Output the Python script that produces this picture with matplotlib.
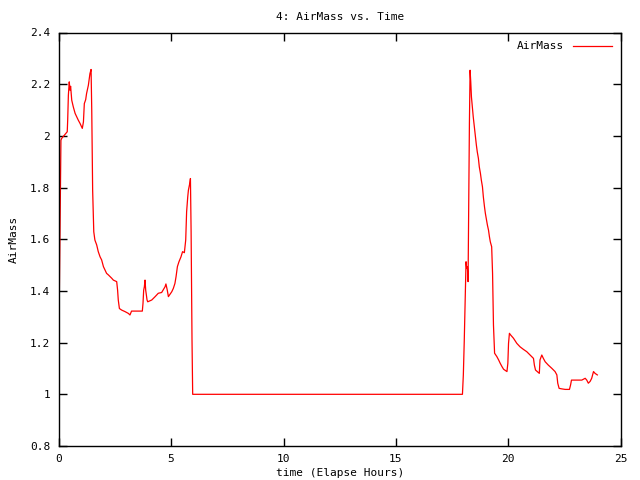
import matplotlib
matplotlib.use("Agg")
import matplotlib.pyplot as plt

# rows of 8 values; hours[i] pairs with airmass[i]
hours = [
    0.00, 0.02, 0.07, 0.10, 0.13, 0.38, 0.40, 0.43,
    0.47, 0.50, 0.53, 0.58, 0.65, 0.73, 0.80, 0.87,
    0.95, 1.02, 1.05, 1.10, 1.14, 1.20, 1.24, 1.32,
    1.39, 1.44, 1.47, 1.51, 1.56, 1.61, 1.69, 1.76,
    1.84, 1.91, 1.99, 2.06, 2.13, 2.21, 2.36, 2.43,
    2.58, 2.62, 2.65, 2.70, 2.80, 2.95, 3.10, 3.17,
    3.24, 3.72, 3.75, 3.78, 3.81, 3.84, 3.87, 3.93,
    3.96, 4.14, 4.29, 4.43, 4.58, 4.73, 4.77, 4.83,
    4.88, 5.03, 5.10, 5.17, 5.22, 5.28, 5.35, 5.44,
    5.51, 5.59, 5.62, 5.65, 5.69, 5.74, 5.77, 5.80,
    5.83, 5.86, 5.89, 5.93, 5.96, 17.96, 18.00, 18.04,
    18.09, 18.12, 18.15, 18.18, 18.21, 18.23, 18.27, 18.30,
    18.33, 18.36, 18.40, 18.44, 18.49, 18.53, 18.58, 18.62,
    18.67, 18.71, 18.76, 18.80, 18.85, 18.89, 18.94, 18.98,
    19.03, 19.07, 19.12, 19.16, 19.20, 19.26, 19.30, 19.34,
    19.39, 19.49, 19.57, 19.64, 19.72, 19.79, 19.94, 19.98,
    20.01, 20.05, 20.11, 20.23, 20.38, 20.52, 20.67, 20.82,
    20.97, 21.12, 21.16, 21.21, 21.29, 21.38, 21.41, 21.49,
    21.56, 21.64, 21.78, 21.93, 22.08, 22.16, 22.20, 22.26,
    22.38, 22.53, 22.72, 22.77, 22.81, 23.05, 23.27, 23.42,
    23.49, 23.56, 23.64, 23.71, 23.79, 23.86, 23.96,
]
airmass = [
    1.094, 1.313, 1.758, 1.983, 1.990, 2.016, 2.061, 2.157,
    2.209, 2.177, 2.192, 2.138, 2.112, 2.087, 2.074, 2.061,
    2.048, 2.035, 2.029, 2.054, 2.125, 2.140, 2.164, 2.196,
    2.241, 2.257, 2.100, 1.790, 1.629, 1.597, 1.578, 1.552,
    1.532, 1.520, 1.494, 1.481, 1.468, 1.462, 1.449, 1.442,
    1.436, 1.403, 1.365, 1.332, 1.326, 1.320, 1.313, 1.307,
    1.322, 1.322, 1.352, 1.403, 1.416, 1.442, 1.403, 1.365,
    1.358, 1.365, 1.378, 1.391, 1.394, 1.416, 1.427, 1.403,
    1.378, 1.397, 1.410, 1.429, 1.455, 1.494, 1.513, 1.532,
    1.552, 1.548, 1.571, 1.597, 1.706, 1.764, 1.790, 1.803,
    1.816, 1.835, 1.629, 1.210, 1.000, 1.000, 1.075, 1.204,
    1.403, 1.513, 1.487, 1.494, 1.436, 1.642, 2.048, 2.254,
    2.209, 2.151, 2.112, 2.074, 2.035, 2.003, 1.964, 1.938,
    1.913, 1.880, 1.855, 1.829, 1.803, 1.764, 1.726, 1.700,
    1.674, 1.655, 1.635, 1.610, 1.590, 1.571, 1.468, 1.268,
    1.159, 1.146, 1.133, 1.120, 1.107, 1.097, 1.088, 1.120,
    1.197, 1.236, 1.229, 1.217, 1.197, 1.184, 1.174, 1.165,
    1.152, 1.139, 1.113, 1.094, 1.088, 1.081, 1.133, 1.152,
    1.139, 1.126, 1.113, 1.101, 1.088, 1.075, 1.043, 1.023,
    1.021, 1.019, 1.019, 1.036, 1.055, 1.055, 1.055, 1.062,
    1.055, 1.043, 1.050, 1.062, 1.088, 1.081, 1.075,
]

xticks = [0, 5, 10, 15, 20, 25]
yticks = [0.8, 1.0, 1.2, 1.4, 1.6, 1.8, 2.0, 2.2, 2.4]
ytick_labels = ["0.8", "1", "1.2", "1.4", "1.6", "1.8", "2", "2.2", "2.4"]

plt.rcParams['font.family'] = ['DejaVu Sans Mono']
fig = plt.figure(figsize=(6.4, 4.8), dpi=100)
ax = fig.add_axes([58.7/640, 1 - 446/480, (620.7-58.7)/640, (446-32.5)/480])
ax.plot(hours, airmass, color='#ff0000', lw=0.9, label='AirMass')
ax.set_xlim(0, 25)
ax.set_ylim(0.8, 2.4)
ax.set_xticks(xticks)
ax.set_xticklabels([str(v) for v in xticks])
ax.set_yticks(yticks)
ax.set_yticklabels(ytick_labels)
ax.tick_params(direction='in', length=6, width=1, top=True, right=True, labelsize=8, pad=6)
for s in ax.spines.values():
    s.set_linewidth(1)
ax.set_title('4: AirMass vs. Time', fontsize=8, pad=9)
ax.set_xlabel('time (Elapse Hours)', fontsize=8, labelpad=3)
ax.set_ylabel('AirMass', fontsize=8, labelpad=8)
leg = ax.legend(loc='upper right', frameon=False, fontsize=8, markerfirst=False,
                handlelength=3.5, borderaxespad=0.4)
fig.savefig('out.png', dpi=100)
